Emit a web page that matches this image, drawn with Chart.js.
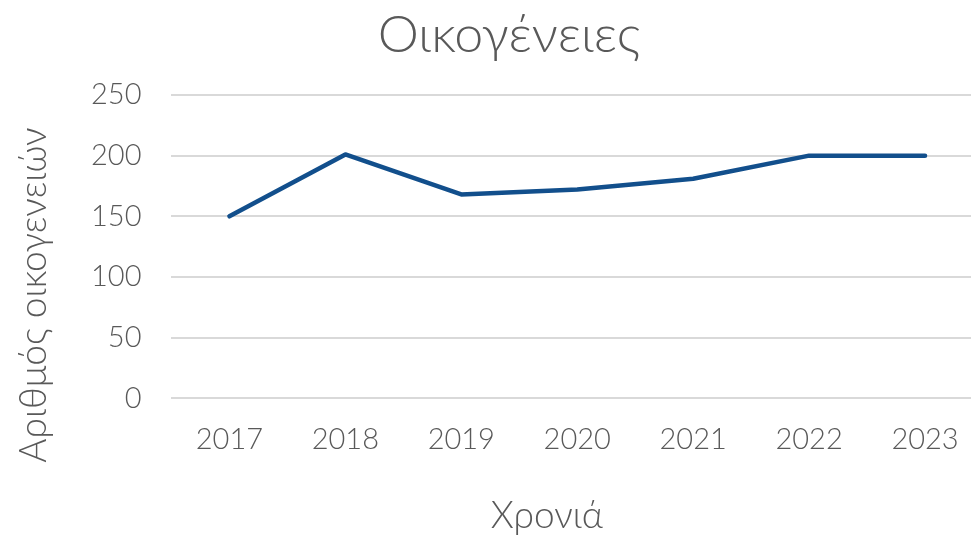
<!DOCTYPE html>
<html>
<head>
<meta charset="utf-8">
<script src="https://cdn.jsdelivr.net/npm/chart.js@4.4.0/dist/chart.umd.min.js"></script>
<style>
  html, body { margin: 0; padding: 0; background: #fff; overflow: hidden; }
  #wrap { width: 971px; height: 536px; overflow: hidden; position: relative; }
  #box { width: 1018px; height: 536px; position: absolute; left: 0; top: 0; }
</style>
</head>
<body>
<div id="wrap"><div id="box"><canvas id="grafico"></canvas></div></div>
<script>
// datos
const years = ["2017", "2018", "2019", "2020", "2021", "2022", "2023"];
const families = [150, 201, 168, 172, 181, 200, 200];
const yTicks = [0, 50, 100, 150, 200, 250];

const chartTitle = "Οικογένειες";
const xTitle = "Χρονιά";
const yTitle = "Αριθμός οικογενειών";

const FONT = "Lato";
const GREY = "#595959";

// títulos dibujados a mano (Excel los centra distinto que Chart.js)
const titulos = {
  id: "titulos",
  afterDraw(chart) {
    const c = chart.ctx;
    c.save();
    c.fillStyle = GREY;
    c.textAlign = "center";
    c.textBaseline = "middle";
    c.font = `300 52px ${FONT}`;
    c.fillText(chartTitle, chart.width / 2, 35);
    c.font = `300 37px ${FONT}`;
    c.fillText(xTitle, 547, 516);
    c.translate(34, 295);
    c.rotate(-Math.PI / 2);
    c.font = `300 37px ${FONT}`;
    c.fillText(yTitle, 0, 0);
    c.restore();
  }
};

const ctx = document.getElementById("grafico").getContext("2d");
new Chart(ctx, {
  type: "line",
  data: {
    labels: years,
    datasets: [{
      label: chartTitle,
      data: families,
      borderColor: "#124F8C",
      borderWidth: 4.5,
      pointRadius: 0,
      tension: 0,
      borderCapStyle: "round",
      borderJoinStyle: "round"
    }]
  },
  options: {
    responsive: true,
    maintainAspectRatio: false,
    animation: false,
    layout: { padding: { top: 95, left: 61, right: 35, bottom: 55 } },
    plugins: {
      legend: { display: false },
      tooltip: { enabled: false },
      title: { display: false }
    },
    scales: {
      x: {
        offset: true,
        grid: { display: false, drawTicks: false },
        border: { display: false },
        ticks: { color: GREY, font: { family: FONT, size: 29, weight: "300" }, padding: 24 }
      },
      y: {
        min: 0,
        max: 250,
        afterBuildTicks: (axis) => { axis.ticks = yTicks.map(v => ({ value: v })); },
        grid: { color: "#D9D9D9", lineWidth: 2, drawTicks: false },
        border: { display: false },
        ticks: { color: GREY, font: { family: FONT, size: 29, weight: "300" }, padding: 30 }
      }
    }
  },
  plugins: [titulos]
});
</script>
</body>
</html>
